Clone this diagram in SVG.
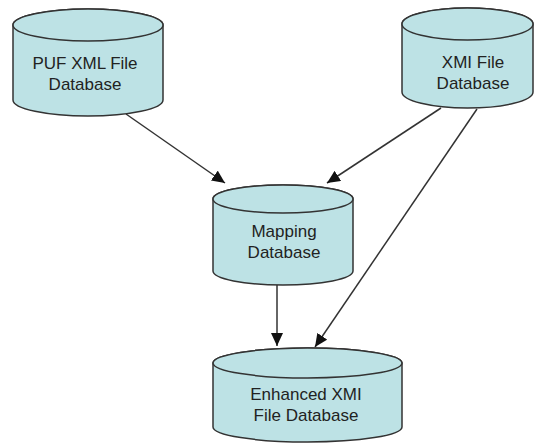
<svg xmlns="http://www.w3.org/2000/svg" width="534" height="447" viewBox="0 0 534 447">
<style>
.body{fill:#bde2e5;stroke:#333;stroke-width:1.5}
.lbl{font-family:"Liberation Sans",Arial,sans-serif;font-size:17px;fill:#222;text-anchor:middle}
.conn{stroke:#333;stroke-width:1.5;fill:none;marker-end:url(#ah)}
</style>
<defs>
<marker id="ah" markerUnits="userSpaceOnUse" markerWidth="14" markerHeight="12" refX="13" refY="6" orient="auto">
<path d="M0,0 L13,6 L0,12 Z" fill="#111"/>
</marker>
</defs>
<rect width="534" height="447" fill="#fff"/>
<g id="connectors">
<line class="conn" x1="126" y1="114" x2="225" y2="183"/>
<line class="conn" x1="441" y1="108" x2="327" y2="183"/>
<line class="conn" x1="477" y1="109" x2="315" y2="347"/>
<line class="conn" x1="277" y1="285" x2="277" y2="346"/>
</g>
<g id="puf">
<path class="body" d="M13,25 V100 A75,16 0 0 0 163,100 V25 A75,16 0 0 0 13,25 Z"/>
<ellipse class="body" cx="88" cy="25" rx="75" ry="16"/>
<text class="lbl" x="85" y="69">PUF XML File</text>
<text class="lbl" x="85" y="90">Database</text>
</g>
<g id="xmi">
<path class="body" d="M402,24 V92 A65.5,16 0 0 0 533,92 V24 A65.5,16 0 0 0 402,24 Z"/>
<ellipse class="body" cx="467.5" cy="24" rx="65.5" ry="16"/>
<text class="lbl" x="473" y="68">XMI File</text>
<text class="lbl" x="473" y="89">Database</text>
</g>
<g id="mapping">
<path class="body" d="M213,199 V271 A70,14 0 0 0 353,271 V199 A70,14 0 0 0 213,199 Z"/>
<ellipse class="body" cx="283" cy="199" rx="70" ry="14"/>
<text class="lbl" x="284" y="237">Mapping</text>
<text class="lbl" x="284" y="258">Database</text>
</g>
<g id="enhanced">
<path class="body" d="M213,363 V427 A94.5,15 0 0 0 402,427 V363 A94.5,15 0 0 0 213,363 Z"/>
<ellipse class="body" cx="307.5" cy="363" rx="94.5" ry="15"/>
<text class="lbl" x="306" y="400">Enhanced XMI</text>
<text class="lbl" x="306" y="421">File Database</text>
</g>
</svg>
